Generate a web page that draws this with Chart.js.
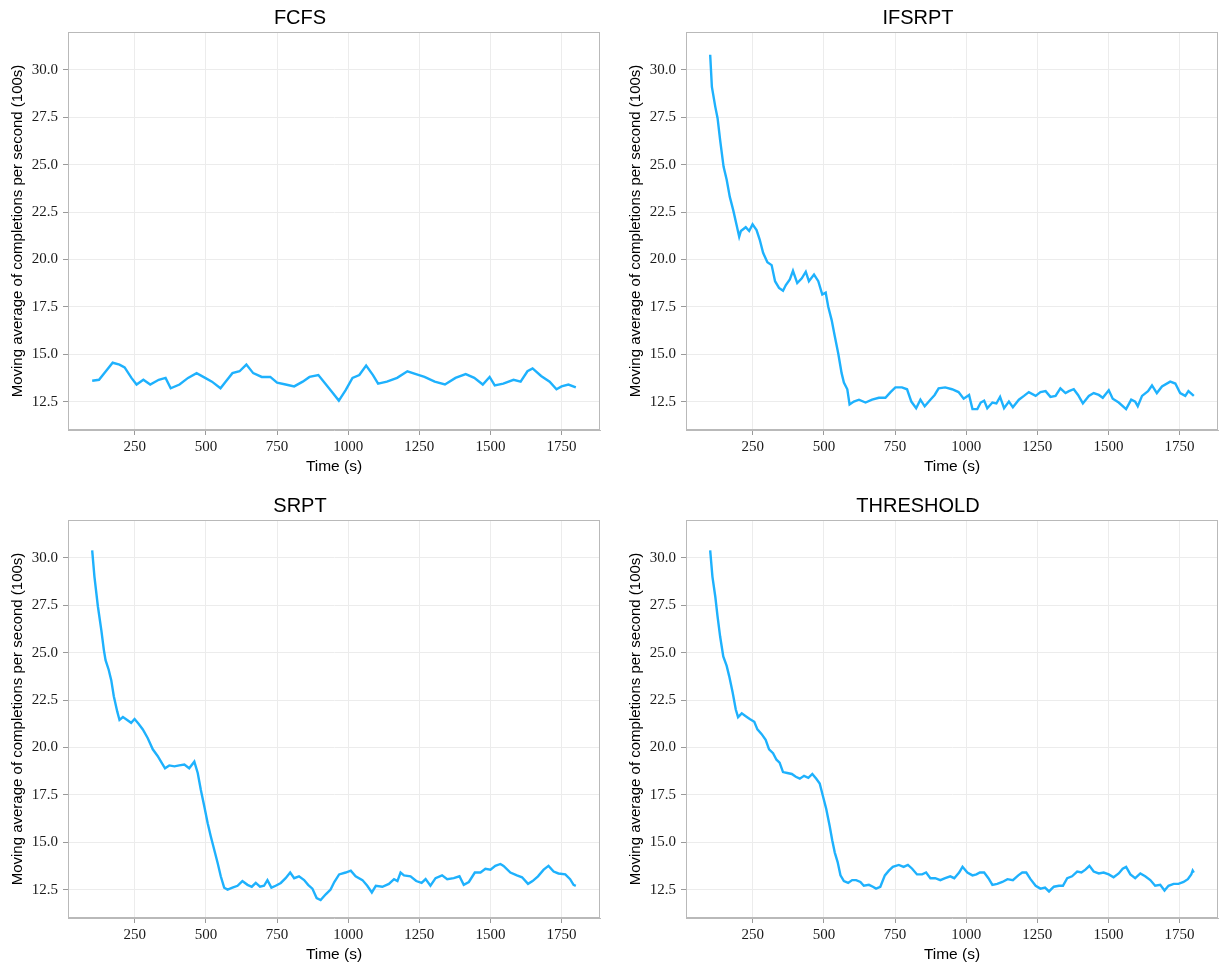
<!DOCTYPE html>
<html>
<head>
<meta charset="utf-8">
<title>Moving average of completions per second</title>
<script src="https://cdn.jsdelivr.net/npm/chart.js@4.4.1/dist/chart.umd.min.js"></script>
<style>
  html, body { margin: 0; padding: 0; background: #ffffff; }
  #grid { position: relative; width: 1225px; height: 966px; background: #ffffff; }
  #grid canvas { position: absolute; }
</style>
</head>
<body>
<div id="grid">
  <canvas id="p0" width="607" height="478" style="left:0px;top:0px"></canvas>
  <canvas id="p1" width="607" height="478" style="left:618px;top:0px"></canvas>
  <canvas id="p2" width="607" height="478" style="left:0px;top:488px"></canvas>
  <canvas id="p3" width="607" height="478" style="left:618px;top:488px"></canvas>
</div>
<script>
// Panel titles (scheduling policies)
const policies = ['FCFS', 'IFSRPT', 'SRPT', 'THRESHOLD'];

// Axis ticks
const timeTicks = [250, 500, 750, 1000, 1250, 1500, 1750];
const rateTicks = [12.5, 15.0, 17.5, 20.0, 22.5, 25.0, 27.5, 30.0];

// FCFS
const fcfsTime = [100,124,148,172,196,214,238,256,280,304,334,358,376,407,437,467,497,521,551,569,593,618,642,666,696,726,750,780,810,840,864,895,919,943,967,991,1015,1039,1063,1087,1105,1136,1172,1208,1238,1268,1304,1340,1377,1413,1443,1473,1497,1515,1545,1581,1606,1630,1648,1678,1708,1732,1750,1774,1800];
const fcfsRate = [13.6,13.65,14.1,14.55,14.45,14.3,13.75,13.4,13.65,13.4,13.65,13.75,13.2,13.4,13.75,14.0,13.75,13.55,13.2,13.55,14.0,14.1,14.45,14.0,13.8,13.8,13.5,13.4,13.3,13.55,13.8,13.9,13.45,13.0,12.55,13.1,13.75,13.9,14.4,13.9,13.45,13.55,13.75,14.1,13.95,13.8,13.55,13.4,13.75,13.95,13.75,13.4,13.8,13.35,13.45,13.65,13.55,14.1,14.25,13.85,13.55,13.15,13.3,13.4,13.25];

// IFSRPT
const ifsrptTime = [100,106,118,126,135,147,158,169,181,193,202,208,225,237,249,263,274,286,301,316,328,342,356,366,380,391,406,422,436,447,465,480,494,506,515,527,538,550,562,570,582,590,605,623,646,669,693,716,734,751,774,792,807,824,839,854,874,889,903,926,950,973,991,
  1010,1022,1039,1051,1063,1074,1092,1106,1119,1133,1150,1164,1185,1203,1220,1244,1261,1279,1296,1314,1331,1349,1361,1378,1393,1410,1431,1448,1466,1480,1501,1515,1536,1562,1580,1594,1603,1618,1639,1653,1670,1688,1717,1735,1752,1770,1781,1800];
const ifsrptRate = [30.8,29.1,28.05,27.45,26.3,24.9,24.2,23.3,22.6,21.8,21.2,21.5,21.7,21.5,21.85,21.55,21.05,20.35,19.85,19.7,18.85,18.5,18.35,18.65,18.95,19.4,18.75,19.0,19.35,18.85,19.2,18.85,18.15,18.25,17.5,16.8,15.95,15.05,14.0,13.5,13.15,12.35,12.5,12.6,12.45,12.6,12.7,12.7,13.0,13.25,13.25,13.15,12.5,12.15,12.6,12.25,12.6,12.85,13.2,13.25,13.15,13.0,12.65,
  12.85,12.1,12.1,12.45,12.55,12.15,12.45,12.4,12.75,12.15,12.5,12.2,12.6,12.8,13.0,12.8,13.0,13.05,12.75,12.8,13.2,12.95,13.05,13.15,12.85,12.4,12.8,12.95,12.85,12.7,13.1,12.65,12.45,12.1,12.6,12.5,12.25,12.8,13.05,13.35,12.95,13.3,13.55,13.45,12.95,12.8,13.05,12.8];

// SRPT
const srptTime = [100,108,120,132,141,147,158,167,176,188,196,208,223,237,249,263,278,295,313,330,344,356,371,389,406,424,441,459,471,482,494,506,517,529,541,552,564,576,593,611,628,646,661,675,690,704,716,730,745,763,780,796,810,827,845,859,874,889,903,921,938,
  951,968,991,1009,1026,1050,1067,1083,1097,1120,1143,1161,1173,1184,1196,1219,1239,1258,1272,1289,1307,1330,1348,1371,1391,1406,1424,1445,1465,1482,1500,1517,1535,1546,1570,1593,1611,1632,1648,1667,1687,1704,1722,1739,1763,1780,1792,1800];
const srptRate = [30.4,29.0,27.45,26.2,25.15,24.6,24.1,23.55,22.7,21.9,21.45,21.6,21.45,21.3,21.5,21.25,20.95,20.5,19.9,19.55,19.2,18.9,19.05,19.0,19.05,19.1,18.9,19.25,18.65,17.75,16.9,16.0,15.3,14.6,13.9,13.2,12.6,12.5,12.6,12.7,12.95,12.75,12.65,12.85,12.65,12.7,13.0,12.6,12.7,12.85,13.1,13.4,13.1,13.2,13.0,12.75,12.55,12.05,11.95,12.25,12.5,
  12.9,13.3,13.4,13.5,13.2,13.0,12.7,12.35,12.7,12.65,12.8,13.05,12.95,13.4,13.25,13.2,12.95,12.85,13.05,12.7,13.1,13.25,13.05,13.1,13.2,12.75,12.9,13.4,13.4,13.6,13.55,13.75,13.85,13.75,13.4,13.25,13.15,12.8,12.95,13.2,13.55,13.75,13.45,13.35,13.3,13.05,12.75,12.7];

// THRESHOLD
const thresholdTime = [100,108,118,126,135,146,158,167,179,190,198,211,225,239,255,266,281,295,307,321,333,344,356,371,387,401,415,430,445,459,473,485,496,508,520,529,538,548,558,570,585,599,613,628,640,658,672,683,698,714,728,742,763,780,795,810,827,845,859,874,891,909,926,944,
  958,975,987,1004,1022,1036,1048,1063,1078,1092,1109,1127,1145,1164,1183,1197,1211,1226,1244,1261,1277,1291,1308,1326,1340,1355,1372,1390,1405,1419,1433,1448,1466,1483,1501,1518,1536,1550,1562,1577,1594,1612,1629,1647,1664,1682,1697,1711,1729,1746,1764,1779,1791,1796,1800];
const thresholdRate = [30.4,29.0,27.95,26.9,25.85,24.8,24.3,23.75,22.9,22.0,21.6,21.8,21.65,21.5,21.35,20.95,20.7,20.4,19.9,19.7,19.35,19.2,18.7,18.65,18.6,18.45,18.35,18.5,18.4,18.6,18.35,18.1,17.45,16.75,15.85,15.1,14.45,13.95,13.25,12.95,12.85,13.0,13.0,12.9,12.7,12.75,12.65,12.55,12.65,13.25,13.5,13.7,13.8,13.7,13.8,13.6,13.3,13.3,13.4,13.1,13.1,13.0,13.1,13.2,
  13.1,13.4,13.7,13.4,13.25,13.3,13.4,13.4,13.1,12.75,12.8,12.9,13.05,13.0,13.25,13.4,13.4,13.05,12.7,12.55,12.6,12.4,12.65,12.7,12.7,13.1,13.2,13.45,13.4,13.55,13.75,13.45,13.35,13.4,13.3,13.15,13.35,13.6,13.7,13.3,13.1,13.35,13.2,13.0,12.7,12.75,12.45,12.7,12.8,12.8,12.9,13.05,13.3,13.5,13.4];

const panelTimes = [fcfsTime, ifsrptTime, srptTime, thresholdTime];
const panelRates = [fcfsRate, ifsrptRate, srptRate, thresholdRate];

const LINE_COLOR = '#1eb1fd';
const FRAME_COLOR = '#b9b9b9';
const GRID_COLOR = '#ececec';
const TICK_COLOR = '#9a9a9a';
const SANS = "'Liberation Sans', Arial, sans-serif";
const SERIF = "'Liberation Serif', 'DejaVu Serif', serif";

// Draws the full box around the plotting area
const frame = {
  id: 'frame',
  afterDatasetsDraw(chart) {
    const a = chart.chartArea;
    const ctx = chart.ctx;
    ctx.save();
    ctx.strokeStyle = FRAME_COLOR;
    ctx.lineWidth = 1;
    ctx.strokeRect(Math.round(a.left) + 0.5, Math.round(a.top) + 0.5,
                   Math.round(a.right - a.left) - 1, Math.round(a.bottom - a.top) - 1);
    ctx.restore();
  }
};

policies.forEach((name, i) => {
  const points = panelTimes[i].map((t, k) => ({ x: t, y: panelRates[i][k] }));
  new Chart(document.getElementById('p' + i), {
    type: 'line',
    data: {
      datasets: [{
        label: name,
        data: points,
        borderColor: LINE_COLOR,
        borderWidth: 2.4,
        pointRadius: 0,
        tension: 0,
        fill: false
      }]
    },
    plugins: [frame],
    options: {
      responsive: false,
      animation: false,
      devicePixelRatio: 1,
      parsing: false,
      layout: { padding: { left: 0, right: 7, top: 0, bottom: 0 } },
      plugins: {
        legend: { display: false },
        tooltip: { enabled: false },
        title: {
          display: true,
          text: name,
          color: '#000000',
          font: { family: SANS, size: 20, weight: 'normal' },
          padding: { top: 6, bottom: 2 }
        }
      },
      scales: {
        x: {
          type: 'linear',
          min: 15,
          max: 1885,
          afterBuildTicks: s => { s.ticks = timeTicks.map(v => ({ value: v })); },
          afterFit: s => { s.height = 48; },
          grid: { color: GRID_COLOR, lineWidth: 1, tickLength: 5, tickColor: TICK_COLOR },
          border: { display: true, color: FRAME_COLOR },
          ticks: {
            color: '#1a1a1a',
            font: { family: SERIF, size: 15 },
            padding: 3,
            maxRotation: 0,
            autoSkip: false,
            callback: v => String(v)
          },
          title: {
            display: true,
            text: 'Time (s)',
            color: '#000000',
            font: { family: SANS, size: 15.5 },
            padding: { top: 0, bottom: 2 }
          }
        },
        y: {
          type: 'linear',
          min: 11,
          max: 32,
          afterBuildTicks: s => { s.ticks = rateTicks.map(v => ({ value: v })); },
          afterFit: s => { s.width = 68; },
          grid: { color: GRID_COLOR, lineWidth: 1, tickLength: 5, tickColor: TICK_COLOR },
          border: { display: true, color: FRAME_COLOR },
          ticks: {
            color: '#1a1a1a',
            font: { family: SERIF, size: 15 },
            padding: 5,
            autoSkip: false,
            callback: v => Number(v).toFixed(1)
          },
          title: {
            display: true,
            text: 'Moving average of completions per second (100s)',
            color: '#000000',
            font: { family: SANS, size: 15 },
            padding: { top: 9, bottom: 0 }
          }
        }
      }
    }
  });
});
</script>
</body>
</html>
